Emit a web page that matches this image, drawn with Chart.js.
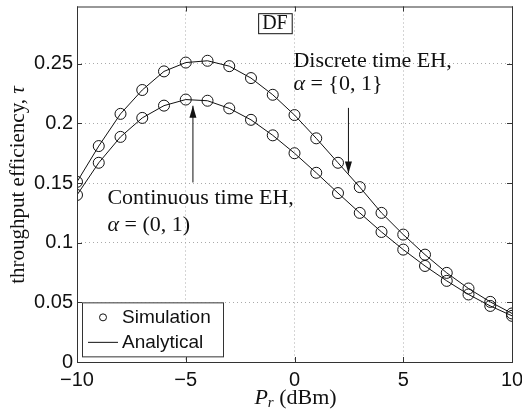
<!DOCTYPE html>
<html>
<head>
<meta charset="utf-8">
<script src="https://cdn.jsdelivr.net/npm/chart.js@4.4.1/dist/chart.umd.min.js"></script>
<style>
  html, body { margin: 0; padding: 0; background: #fff; }
  #wrap { width: 522px; height: 415px; }
</style>
</head>
<body>
<div id="wrap"><canvas id="myChart" width="522" height="415"></canvas></div>
<script>
// data
const powerDbm = [-10, -9, -8, -7, -6, -5, -4, -3, -2, -1, 0, 1, 2, 3, 4, 5, 6, 7, 8, 9, 10]
const discreteEH = [0.151, 0.181, 0.208, 0.228, 0.2436, 0.251, 0.2525, 0.248, 0.238, 0.224, 0.207,
  0.1875, 0.167, 0.1466, 0.125, 0.1068, 0.090, 0.0747, 0.0616, 0.0504, 0.0407]
const continuousEH = [0.140, 0.167, 0.1887, 0.2046, 0.2149, 0.220, 0.219, 0.2126, 0.203, 0.190, 0.175,
  0.1586, 0.1416, 0.125, 0.109, 0.0942, 0.0805, 0.068, 0.0566, 0.047, 0.0387]
const xTicks = [-10, -5, 0, 5, 10]
const yTicks = [0, 0.05, 0.1, 0.15, 0.2, 0.25]
const yTickLabels = ['0', '0.05', '0.1', '0.15', '0.2', '0.25']

const serif = '"Liberation Serif", "Times New Roman", serif'
const sans = '"Liberation Sans", Arial, sans-serif'

const pts = ys => powerDbm.map((x, i) => ({ x: x, y: ys[i] }))

// draw text made of pieces [text, italic, dy, size]
const drawPieces = (ctx, pieces, x, y, size) => {
  let cx = x
  pieces.forEach(p => {
    const s = p[3] || size
    ctx.font = (p[1] ? 'italic ' : '') + s + 'px ' + serif
    ctx.fillText(p[0], cx, y + (p[2] || 0))
    cx += ctx.measureText(p[0]).width
  })
}
const piecesWidth = (ctx, pieces, size) => {
  let w = 0
  pieces.forEach(p => {
    ctx.font = (p[1] ? 'italic ' : '') + (p[3] || size) + 'px ' + serif
    w += ctx.measureText(p[0]).width
  })
  return w
}

const arrow = (ctx, x, y1, y2) => {
  ctx.beginPath()
  ctx.moveTo(x, y1)
  ctx.lineTo(x, y2)
  ctx.stroke()
  const d = y2 > y1 ? -1 : 1
  ctx.beginPath()
  ctx.moveTo(x, y2)
  ctx.lineTo(x - 3.5, y2 + d * 12)
  ctx.lineTo(x + 3.5, y2 + d * 12)
  ctx.closePath()
  ctx.fill()
}

const decorations = {
  id: 'decorations',
  afterDatasetsDraw(chart) {
    const ctx = chart.ctx
    const xs = chart.scales.x
    const ys = chart.scales.y
    const area = chart.chartArea
    ctx.save()
    ctx.fillStyle = '#111'
    ctx.strokeStyle = '#111'
    ctx.lineWidth = 1
    ctx.textBaseline = 'middle'
    ctx.textAlign = 'left'

    // DF box
    const dfx = xs.getPixelForValue(-0.9)
    const dfy = ys.getPixelForValue(0.284)
    ctx.font = '20px ' + serif
    const dfw = ctx.measureText('DF').width
    ctx.fillStyle = '#fff'
    ctx.fillRect(dfx - dfw / 2 - 4, dfy - 10, dfw + 8, 20)
    ctx.strokeRect(dfx - dfw / 2 - 4 + 0.5, dfy - 10 + 0.5, dfw + 8, 20)
    ctx.fillStyle = '#111'
    ctx.fillText('DF', dfx - dfw / 2, dfy + 1)

    // discrete annotation
    let tx = xs.getPixelForValue(-0.05)
    drawPieces(ctx, [['Discrete time EH,']], tx, ys.getPixelForValue(0.2525), 22)
    drawPieces(ctx, [['\u03b1', true], [' = {0, 1}']], tx, ys.getPixelForValue(0.233), 22)
    arrow(ctx, xs.getPixelForValue(2.48), ys.getPixelForValue(0.213), ys.getPixelForValue(0.158))

    // continuous annotation
    tx = xs.getPixelForValue(-8.6)
    drawPieces(ctx, [['Continuous time EH,']], tx, ys.getPixelForValue(0.137), 22)
    drawPieces(ctx, [['\u03b1', true], [' = (0, 1)']], tx, ys.getPixelForValue(0.1145), 22)
    arrow(ctx, xs.getPixelForValue(-4.67), ys.getPixelForValue(0.1505), ys.getPixelForValue(0.2148))

    // legend box
    const lx = area.left + 5, ly = ys.getPixelForValue(0.05), lw = 141, lh = 54
    ctx.fillStyle = '#fff'
    ctx.fillRect(lx, ly, lw, lh)
    ctx.strokeStyle = '#333'
    ctx.strokeRect(lx + 0.5, ly + 0.5, lw, lh)
    ctx.strokeStyle = '#111'
    ctx.beginPath()
    ctx.arc(lx + 21, ly + 15, 3.5, 0, Math.PI * 2)
    ctx.stroke()
    ctx.beginPath()
    ctx.moveTo(lx + 6, ly + 40)
    ctx.lineTo(lx + 36, ly + 40)
    ctx.stroke()
    ctx.fillStyle = '#111'
    ctx.font = '19px ' + sans
    ctx.fillText('Simulation', lx + 40, ly + 15)
    ctx.fillText('Analytical', lx + 40, ly + 40)

    // frame and inward ticks
    ctx.strokeStyle = '#333'
    ctx.strokeRect(area.left + 0.5, area.top + 0.5, area.right - area.left, area.bottom - area.top)
    ctx.beginPath()
    xTicks.forEach(v => {
      const px = Math.round(xs.getPixelForValue(v)) + 0.5
      ctx.moveTo(px, area.bottom); ctx.lineTo(px, area.bottom - 5)
      ctx.moveTo(px, area.top); ctx.lineTo(px, area.top + 5)
    })
    yTicks.forEach(v => {
      const py = Math.round(ys.getPixelForValue(v)) + 0.5
      ctx.moveTo(area.left, py); ctx.lineTo(area.left + 5, py)
      ctx.moveTo(area.right, py); ctx.lineTo(area.right - 5, py)
    })
    ctx.stroke()

    // axis titles
    ctx.fillStyle = '#111'
    const xl = [['P', true], ['r', true, 5, 15], [' (dBm)']]
    const xw = piecesWidth(ctx, xl, 22)
    drawPieces(ctx, xl, (area.left + area.right) / 2 - xw / 2 + 1, 398, 22)

    ctx.translate(18, 185)
    ctx.rotate(-Math.PI / 2)
    const yl = [['throughput efficiency, '], ['\u03c4', true]]
    const yw = piecesWidth(ctx, yl, 21)
    drawPieces(ctx, yl, -yw / 2, 0, 21)
    ctx.restore()
  }
}

const ctx = document.getElementById('myChart').getContext('2d')
const myChart = new Chart(ctx, {
  type: 'scatter',
  data: {
    datasets: [
      {
        label: 'Analytical discrete',
        data: pts(discreteEH),
        showLine: true,
        borderColor: '#111',
        borderWidth: 1,
        pointRadius: 0
      },
      {
        label: 'Analytical continuous',
        data: pts(continuousEH),
        showLine: true,
        borderColor: '#111',
        borderWidth: 1,
        pointRadius: 0
      },
      {
        label: 'Simulation discrete',
        data: pts(discreteEH),
        showLine: false,
        borderColor: '#111',
        backgroundColor: 'rgba(0,0,0,0)',
        borderWidth: 1,
        pointRadius: 5.5
      },
      {
        label: 'Simulation continuous',
        data: pts(continuousEH),
        showLine: false,
        borderColor: '#111',
        backgroundColor: 'rgba(0,0,0,0)',
        borderWidth: 1,
        pointRadius: 5.5
      }
    ]
  },
  options: {
    responsive: false,
    animation: false,
    layout: { padding: { left: 0, right: 10, top: 4, bottom: 0 } },
    plugins: { legend: { display: false }, tooltip: { enabled: false } },
    scales: {
      x: {
        type: 'linear',
        min: -10,
        max: 10,
        afterBuildTicks: s => { s.ticks = xTicks.map(v => ({ value: v })) },
        afterFit: s => { s.height = 53; s.paddingLeft = 0; s.paddingRight = 0 },
        ticks: {
          color: '#111',
          font: { family: sans, size: 20 },
          padding: 6,
          maxRotation: 0,
          callback: v => (v < 0 ? '\u2212' + Math.abs(v) : String(v))
        },
        grid: { color: '#aaa', drawTicks: false },
        border: { display: false, dash: [1, 3] }
      },
      y: {
        min: 0,
        max: 0.298,
        afterBuildTicks: s => { s.ticks = yTicks.map(v => ({ value: v })) },
        afterFit: s => { s.width = 77; s.paddingTop = 0; s.paddingBottom = 0 },
        ticks: {
          color: '#111',
          font: { family: sans, size: 20 },
          padding: 4,
          callback: (v, i) => yTickLabels[i]
        },
        grid: { color: '#aaa', drawTicks: false },
        border: { display: false, dash: [1, 3] }
      }
    }
  },
  plugins: [decorations]
})
</script>
</body>
</html>
